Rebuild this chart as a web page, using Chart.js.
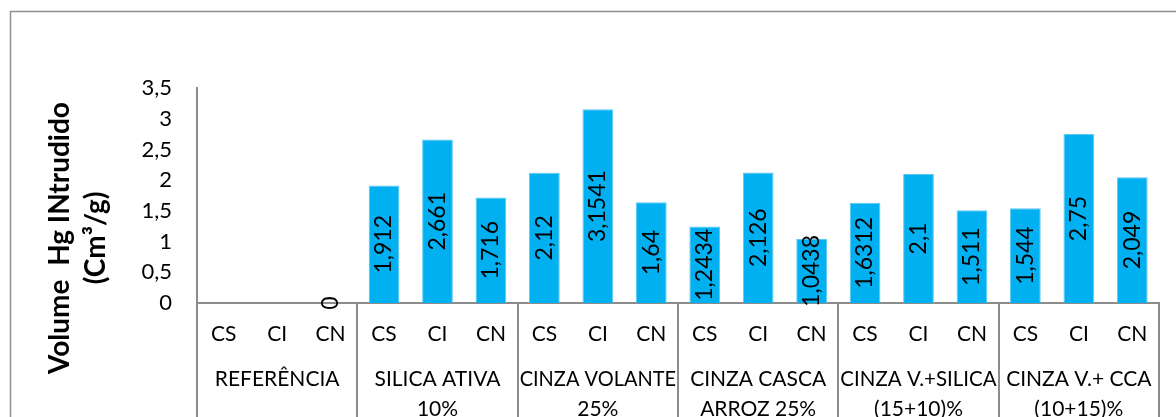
<!DOCTYPE html>
<html>
<head>
<meta charset="utf-8">
<script src="https://cdn.jsdelivr.net/npm/chart.js@4/dist/chart.umd.min.js"></script>
<style>
  html, body { margin: 0; padding: 0; background: #ffffff; overflow: hidden; }
  #wrap { width: 1176px; height: 417px; position: relative; }
</style>
</head>
<body>
<div id="wrap"><canvas id="chart" width="1176" height="417"></canvas></div>
<script>
// Pore volume intruded by mercury, per curing condition and mineral addition
const subCategories = ['CS', 'CI', 'CN', 'CS', 'CI', 'CN', 'CS', 'CI', 'CN',
                       'CS', 'CI', 'CN', 'CS', 'CI', 'CN', 'CS', 'CI', 'CN'];
const groupNames = ['REFERÊNCIA', 'SILICA ATIVA', 'CINZA VOLANTE', 'CINZA CASCA', 'CINZA V.+SILICA', 'CINZA V.+ CCA'];
const groupDetails = ['', '10%', '25%', 'ARROZ 25%', '(15+10)%', '(10+15)%'];
const volumes = [null, null, 0,
                 1.912, 2.661, 1.716,
                 2.12, 3.1541, 1.64,
                 1.2434, 2.126, 1.0438,
                 1.6312, 2.1, 1.511,
                 1.544, 2.75, 2.049];
const axisTitle = ['Volume  Hg INtrudido', '(Cm³/g)'];

const FONT = 'Lato, "Open Sans", sans-serif';
const GRID = '#8c8c8c';
const BAR = '#00B0F0';

const toComma = v => String(v).replace('.', ',');

Chart.defaults.font.family = FONT;
Chart.defaults.color = '#000000';

const decorations = {
  id: 'decorations',
  afterDraw(chart) {
    const { ctx, chartArea, scales } = chart;
    const x = scales.x;
    const H = chart.height;
    ctx.save();

    // outer frame
    ctx.strokeStyle = '#8f8f8f';
    ctx.lineWidth = 1.5;
    ctx.strokeRect(10.5, 11.5, 1300, 600);

    // group separators through the label rows
    const slot = x.getPixelForValue(1) - x.getPixelForValue(0);
    ctx.strokeStyle = GRID;
    ctx.lineWidth = 2;
    for (let g = 0; g <= groupNames.length; g++) {
      const idx = Math.min(g * 3, subCategories.length - 1);
      const px = g * 3 < subCategories.length
        ? x.getPixelForValue(idx) - slot / 2
        : x.getPixelForValue(idx) + slot / 2;
      const xx = Math.round(px);
      ctx.beginPath();
      ctx.moveTo(xx, chartArea.bottom);
      ctx.lineTo(xx, H + 5);
      ctx.stroke();
    }

    // group labels
    ctx.fillStyle = '#000000';
    ctx.font = '21px ' + FONT;
    ctx.textAlign = 'center';
    ctx.textBaseline = 'middle';
    groupNames.forEach((name, g) => {
      const cx = (x.getPixelForValue(g * 3) + x.getPixelForValue(g * 3 + 2)) / 2;
      const w = slot * 3 - 4;
      ctx.fillText(name, cx, 379, w);
      if (groupDetails[g]) ctx.fillText(groupDetails[g], cx, 409.5, w);
    });

    // value labels, rotated, centred on each bar
    ctx.font = '23px ' + FONT;
    const meta = chart.getDatasetMeta(0);
    meta.data.forEach((bar, i) => {
      const v = volumes[i];
      if (v === null || v === undefined) return;
      const cy = (bar.y + bar.base) / 2;
      ctx.save();
      ctx.translate(bar.x, cy);
      ctx.rotate(-Math.PI / 2);
      ctx.fillText(toComma(v), 0, 0);
      ctx.restore();
    });

    // y-axis title
    ctx.font = 'bold 28px ' + FONT;
    const cyTitle = 238;
    const lineX = [60, 96];
    axisTitle.forEach((t, k) => {
      ctx.save();
      ctx.translate(lineX[k], cyTitle);
      ctx.rotate(-Math.PI / 2);
      ctx.fillText(t, 0, 0);
      ctx.restore();
    });

    ctx.restore();
  }
};

new Chart(document.getElementById('chart'), {
  type: 'bar',
  data: {
    labels: subCategories,
    datasets: [{
      data: volumes,
      backgroundColor: BAR,
      borderColor: '#5cc9f2',
      borderWidth: 1,
      categoryPercentage: 1.0,
      barPercentage: 0.575
    }]
  },
  options: {
    responsive: false,
    animation: false,
    devicePixelRatio: 1,
    layout: { padding: { top: 88, right: 17, left: 0, bottom: 0 } },
    plugins: { legend: { display: false }, tooltip: { enabled: false } },
    scales: {
      x: {
        grid: { display: false, drawTicks: false },
        border: { color: GRID, width: 2 },
        ticks: { font: { size: 21 }, color: '#000000', maxRotation: 0, autoSkip: false, padding: 19 },
        afterFit: s => { s.height = 114; }
      },
      y: {
        min: 0,
        max: 3.5,
        grid: { display: false, drawTicks: false },
        border: { color: GRID, width: 2 },
        ticks: {
          stepSize: 0.5,
          font: { size: 22 },
          color: '#000000',
          padding: 25,
          callback: v => toComma(v)
        },
        afterFit: s => { s.width = 197; }
      }
    }
  },
  plugins: [decorations]
});
</script>
</body>
</html>
